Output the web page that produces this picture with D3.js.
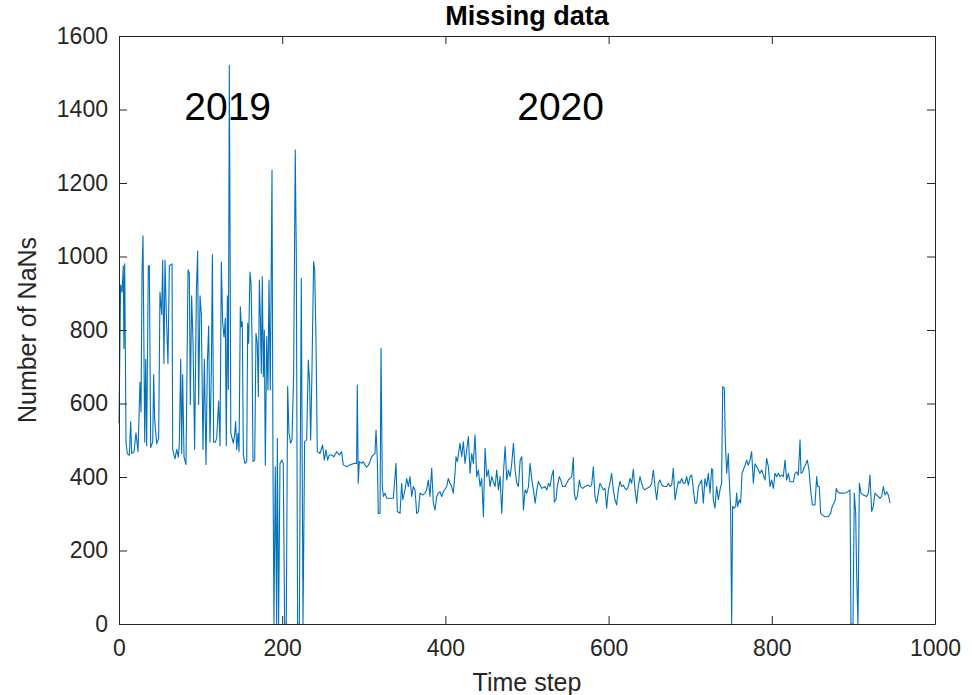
<!DOCTYPE html>
<html>
<head>
<meta charset="utf-8">
<script src="https://cdn.jsdelivr.net/npm/d3@7"></script>
<style>
  html, body { margin: 0; padding: 0; background: #fff; }
  svg { display: block; font-family: "Liberation Sans", Arial, Helvetica, sans-serif; }
</style>
</head>
<body>
<svg id="chart" width="972" height="695"></svg>
<script>
// ---- data: [time step, number of NaNs] ----
const seg2019a = [
  [0,546],[2,923],[3.7,903],[5.3,975],[6,750],[7,980],[8.6,495],[10.2,464],[12.7,459],[14.3,551],
  [15.5,464],[18.4,469],[20.8,520],[23.3,469],[25.7,658],[27,577],[28.2,954],[29.4,1056],[31.5,495],
  [32.7,720],[33.9,485],[35.9,975],[37.2,975],[38.8,480],[41.3,495],[42.5,679],[43.7,556],[46.2,490],
  [48.6,505],[50.2,903],[52.3,842],[53.5,990],[55.1,709],[56.4,990],[58,842],[60,709],[61.7,975],
  [65,980],[65.8,475],[68.6,449],[70.7,475],[72.7,454],[73.9,490],[75.6,720],[76.8,464],[78,679],
  [79.7,454],[82.1,434],[84.6,964],[86.2,954],[87.4,597],[89,893],[90.7,770],[92.7,475],[94.8,903],
  [96.4,1015],[97.6,597],[99.3,893],[100.9,842],[102.9,475],[104.6,720],[106.6,434],[108.3,709],
  [109.9,811],[111.5,495],[113.2,689],[114.4,1005],[116,495],[118.1,495],[119.7,505],[122.1,607],
  [123.8,485],[125.4,985],[127,821],[128.7,781],[130.3,832],[131.5,485],[132.8,893],[134,638],
  [135.2,1520],[136.2,1000],[137,520]
];
const seg2019b = [
  [138.1,510],[140.1,492],[141.7,514],[143,551],[144.2,474],[145.8,519],[147.1,469],[148.7,863],
  [149.9,809],[151.1,822],[152.4,460],[154.4,437],[156.5,442],[157.7,818],[158.9,764],[160.5,958],
  [161.8,927],[163,782],[164.2,442],[166.3,446],[167.9,791],[169.5,764],[170.8,619],[172,936],
  [173.2,836],[174.4,682],[175.6,945],[176.9,673],[178.1,800],[179.3,432],[181,782],[182.6,637],
  [183.8,936],[185.4,637],[187.5,1235],[188.7,428],[189.9,0],[191.5,428],[193.2,0],[194,505],
  [195.6,0],[197.3,437],[199.7,446],[201.3,437],[203,0],[205,0],[206.7,646],[208.3,519],[210.3,492],
  [212,501],[214,678],[216,1290],[217.3,999],[218.9,0],[221,0],[223.4,941],[225.5,0],[227.5,497],
  [230,501],[232,718],[233.6,655],[234.9,501],[236.5,691],[238.5,986],[239.8,963],[241.4,773],
  [243,469],[246.3,464],[249.5,487],[251.6,446],[253.6,474],[255.7,446],[257.7,460],[260.6,460],
  [263.4,455],[266.7,469],[270,460],[272.8,469],[274.9,433],[279,428],[283,433],[287.9,437],
  [291.2,437],[292,650],[293.2,383],[294.5,442]
];
const seg2020a = [
  [297.4,437],[299.4,442],[301.5,432],[303.5,427],[305.6,432],[307.6,442],[309.6,455],[311.7,460],
  [313.7,464],[315,528],[316.6,446],[317.8,301],[319.9,301],[321.1,750],[322.7,374],[324,347],
  [326,356],[328,342],[332.1,342],[336.2,342],[339.5,437],[341.1,306],[344.4,301],[346.4,383],
  [347.7,338],[350.5,365],[352.5,396],[354.6,374],[356.6,401],[358.7,347],[360.7,374],[362.8,365],
  [364.8,301],[366.9,306],[368.9,356],[372.2,351],[375,356],[377,365],[379.1,392],[381.1,347],
  [383.2,424],[385.2,329],[387.3,310],[389.3,347],[391.3,356],[393.4,360],[395.4,347],[397.5,360],
  [401.6,374],[403.6,396],[405.6,383],[407.7,374],[409.7,356],[411.8,410],[413,455],[414.7,442],
  [417.9,492],[420,455],[422,496],[424.1,437],[426.1,474],[428.2,510],[430.2,410],[432.3,464],
  [434.3,437],[436.3,515],[438.4,401],[440.4,419],[442.5,374],[444.5,396],[446.6,292],[448.6,478],
  [450.7,401],[452.7,419],[454.7,374],[456.8,401],[458.8,387],[460.9,374],[462.9,419],[465,365],
  [467,401],[469.1,301],[471.1,410],[473.2,483],[475.2,392],[477.2,419],[479.3,401],[481.3,437],
  [483.4,492],[485.4,419],[487.5,383],[489.5,374],[491.6,446],[493.6,455],[495.6,310],[497.7,365],
  [499.7,356],[501.8,374],[503.8,437],[505.9,392],[507.9,365],[510,329],[512,365],[514,388],
  [518.1,369]
];
const seg2020b = [
  [522,374],[524.4,365],[526.2,383],[528.2,374],[530.2,401],[532.3,419],[533.5,332],[535.5,338],
  [537.2,374],[539.6,401],[541.3,392],[543.7,374],[546.6,374],[548.6,383],[550.7,392],[552.7,396],
  [554.8,401],[556.8,453],[558,356],[559.7,338],[561.7,347],[564.2,392],[565.8,374],[568.2,369],
  [571.1,374],[575.1,378],[577.2,374],[579.2,378],[581.3,428],[583.3,347],[585.3,329],[587.4,356],
  [589.4,383],[591.5,374],[593.5,365],[595.6,369],[597.6,315],[599.7,365],[601.7,383],[603.7,410],
  [605.8,365],[607.8,338],[609.9,324],[611.9,365],[614,388],[616,374],[618,378],[620.1,369],
  [622.1,365],[624.2,374],[626.2,396],[628.3,383],[630.3,421],[632.4,365],[634.4,329],[636.4,374],
  [638.5,401],[640.5,383],[642.6,369],[644.6,365],[646.7,369],[650.8,374],[652.8,383],[654.8,419],
  [656.9,374],[658.9,338],[661,383],[663,392],[665.1,378],[667.9,374],[671.2,374],[673.2,383],
  [675.3,374],[677.3,378],[679.3,424],[681.4,338],[683.4,365],[685.5,388],[687.5,383],[689.6,396],
  [691.6,383],[693.6,383],[695.7,401],[697.7,378],[699.8,401],[701.8,406],[703.9,365],[705.9,329],
  [707.9,329],[710,374],[712,383]
];
const seg2020c = [
  [714,392],[716.1,329],[718.1,396],[720.2,374],[722.2,410],[724.3,356],[726.3,423],[727.5,419],
  [728.3,338],[730.4,315],[732.4,374],[734.5,338],[736.5,365],[738.5,383],[739.8,646],[741.8,641],
  [743,501],[744.7,410],[746.7,464],[747.9,392],[749.5,320],[750.8,0],[752,320],[753.7,315],
  [755.7,320],[756.9,356],[758.2,320],[760.2,338],[761.8,329],[763.5,410],[765.1,419],[767.2,432],
  [769.2,446],[771.2,432],[773.3,446],[775.3,469],[777.4,383],[779.4,436],[781.5,428],[783.5,419],
  [785.5,410],[787.6,419],[789.6,405],[791.7,392],[793.7,451],[795.8,428],[797.8,374],[799.8,392],
  [801.9,369],[803.9,410],[806,401],[808,410],[810,401],[812.1,405],[814.1,401],[816.2,446],
  [818.2,392],[820.3,410],[822.3,387],[826.4,387],[828.4,410],[830.5,414],[832.5,405],[834.6,501],
  [835.8,410],[837.8,414],[839.9,428],[841.9,437],[843.5,446],[845.6,419],[847.6,365],[849.7,324],
  [852.9,324],[855,401],[856.2,374],[858.2,374],[859.9,301],[861.9,297],[865.2,292],[869.2,292],
  [872.1,301],[874.1,320],[876.2,329],[877.8,338],[879,369],[880.7,360],[883.5,356],[887.6,356],
  [891.7,357],[895.8,365],[897,0],[899.5,0],[901.1,356],[902.8,301],[904,136],[905.6,0],[907.3,383],
  [909.3,356],[912.1,351],[916.2,347],[918.3,356],[920.3,405],[922.4,306],[924.4,320],[926.5,356],
  [928.5,351],[930.5,347],[932.6,342],[934.6,347],[936.7,374],[938.7,351],[940.8,360],[942.8,351],
  [944.9,329]
];
const series = [...seg2019a, ...seg2019b, ...seg2020a, ...seg2020b, ...seg2020c];

const xTicks = [0, 200, 400, 600, 800, 1000];
const yTicks = [0, 200, 400, 600, 800, 1000, 1200, 1400, 1600];
const annotations = [ { x: 80, y: 1400, text: "2019" }, { x: 488, y: 1400, text: "2020" } ];
const titleText = "Missing data";
const xLabel = "Time step";
const yLabel = "Number of NaNs";

// ---- layout ----
const L = 119, R = 935, T = 36, B = 624;
const svg = d3.select("#chart");
const x = d3.scaleLinear().domain([0, 1000]).range([L, R]);
const y = d3.scaleLinear().domain([0, 1600]).range([B, T]);
const axisColor = "#262626";
const tickLen = 8;

// line
svg.append("path")
  .datum(series)
  .attr("fill", "none")
  .attr("stroke", "#0072BD")
  .attr("stroke-width", 1.1)
  .attr("stroke-linejoin", "round")
  .attr("d", d3.line().x(d => x(d[0])).y(d => y(d[1])));

function styleAxis(g) {
  g.selectAll("path.domain").attr("stroke", axisColor).attr("stroke-width", 1);
  g.selectAll(".tick line").attr("stroke", axisColor).attr("stroke-width", 1);
  g.selectAll(".tick text").attr("fill", axisColor).attr("font-size", 23)
    .attr("font-family", "'Liberation Sans', Arial, Helvetica, sans-serif");
}

const gx = svg.append("g").attr("transform", `translate(0,${B})`)
  .call(d3.axisBottom(x).tickValues(xTicks).tickFormat(d3.format("d"))
    .tickSizeInner(-tickLen).tickSizeOuter(0).tickPadding(16));
styleAxis(gx);
const gxt = svg.append("g").attr("transform", `translate(0,${T})`)
  .call(d3.axisTop(x).tickValues(xTicks).tickFormat("")
    .tickSizeInner(-tickLen).tickSizeOuter(0));
styleAxis(gxt);
const gy = svg.append("g").attr("transform", `translate(${L},0)`)
  .call(d3.axisLeft(y).tickValues(yTicks).tickFormat(d3.format("d"))
    .tickSizeInner(-tickLen).tickSizeOuter(0).tickPadding(11));
styleAxis(gy);
const gyr = svg.append("g").attr("transform", `translate(${R},0)`)
  .call(d3.axisRight(y).tickValues(yTicks).tickFormat("")
    .tickSizeInner(-tickLen).tickSizeOuter(0));
styleAxis(gyr);

// annotations
svg.selectAll("text.anno").data(annotations).enter().append("text")
  .attr("class", "anno")
  .attr("x", d => x(d.x))
  .attr("y", d => y(d.y) + 10)
  .attr("font-size", 39)
  .attr("fill", "#000")
  .text(d => d.text);

// title
svg.append("text")
  .attr("x", (L + R) / 2).attr("y", 25)
  .attr("text-anchor", "middle")
  .attr("font-size", 27).attr("font-weight", "bold").attr("fill", "#000")
  .text(titleText);

// axis labels
svg.append("text")
  .attr("x", (L + R) / 2).attr("y", 691)
  .attr("text-anchor", "middle")
  .attr("font-size", 25).attr("fill", axisColor)
  .text(xLabel);
svg.append("text")
  .attr("transform", `translate(36,${(T + B) / 2}) rotate(-90)`)
  .attr("text-anchor", "middle")
  .attr("font-size", 25).attr("fill", axisColor)
  .text(yLabel);
</script>
</body>
</html>
